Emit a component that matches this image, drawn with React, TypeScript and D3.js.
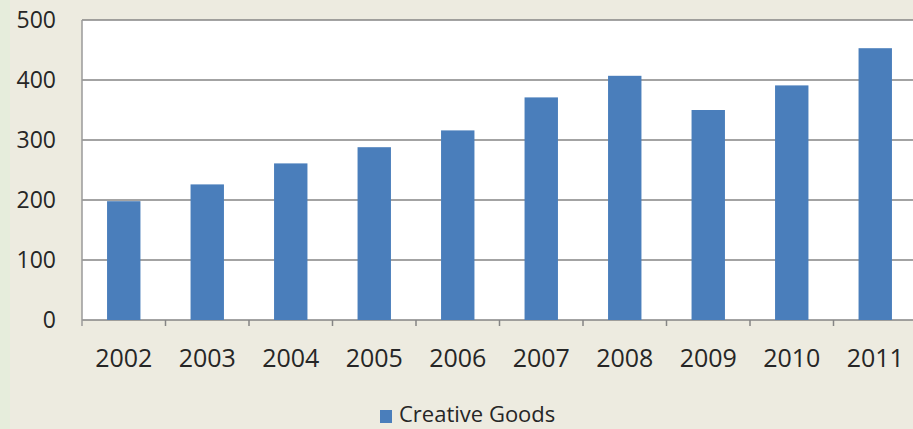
import React from "react";
import * as d3 from "d3";

const categories = ["2002", "2003", "2004", "2005", "2006", "2007", "2008", "2009", "2010", "2011"];
const values = [198, 226, 261, 288, 316, 371, 407, 350, 391, 453];
const yTicks = [0, 100, 200, 300, 400, 500];
const seriesName = "Creative Goods";

const W = 913;
const H = 429;
const left = 82;
const right = 917;
const top = 20;
const bottom = 320;

export default function App() {
  const x = d3.scaleBand<string>().domain(categories).range([left, right]).paddingInner(0.6).paddingOuter(0.3);
  const xOuter = d3.scaleBand<string>().domain(categories).range([left, right]);
  const y = d3.scaleLinear().domain([0, 500]).range([bottom, top]);
  const font = "'Open Sans', 'DejaVu Sans', sans-serif";
  const barColor = "#4A7EBB";
  const textColor = "#262626";
  return (
    <svg width={W} height={H} style={{ position: "absolute", left: 0, top: 0, display: "block" }}>
      <rect x={0} y={0} width={W} height={H} fill="#EDEBE0" />
      <rect x={0} y={0} width={10} height={H} fill="#E6EDDC" />
      <rect x={left} y={top} width={right - left} height={bottom - top} fill="#FFFFFF" />
      {yTicks.map((t) => (
        <line key={"g" + t} x1={left} x2={right} y1={y(t)} y2={y(t)} stroke="#858585" strokeWidth={1.5} />
      ))}
      <line x1={left} x2={left} y1={top} y2={bottom + 6} stroke="#9A9A9A" strokeWidth={1.5} />
      {categories.map((c) => (
        <line key={"t" + c} x1={(xOuter(c) as number) + xOuter.bandwidth()} x2={(xOuter(c) as number) + xOuter.bandwidth()} y1={bottom} y2={bottom + 6} stroke="#858585" strokeWidth={1.5} />
      ))}
      {categories.map((c, i) => (
        <rect key={"b" + c} x={x(c)} y={y(values[i])} width={x.bandwidth()} height={bottom - y(values[i])} fill={barColor} />
      ))}
      {yTicks.map((t) => (
        <text key={"yl" + t} x={56} y={y(t)} dy="0.35em" textAnchor="end" fontFamily={font} fontSize={23} fill={textColor}>
          {t}
        </text>
      ))}
      {categories.map((c) => (
        <text key={"xl" + c} x={(xOuter(c) as number) + xOuter.bandwidth() / 2} y={367} textAnchor="middle" fontFamily={font} fontSize={25} fill={textColor}>
          {c}
        </text>
      ))}
      <rect x={380} y={410} width={12} height={13} fill={barColor} />
      <text x={399} y={422} fontFamily={font} fontSize={22} fill={textColor}>
        {seriesName}
      </text>
    </svg>
  );
}
